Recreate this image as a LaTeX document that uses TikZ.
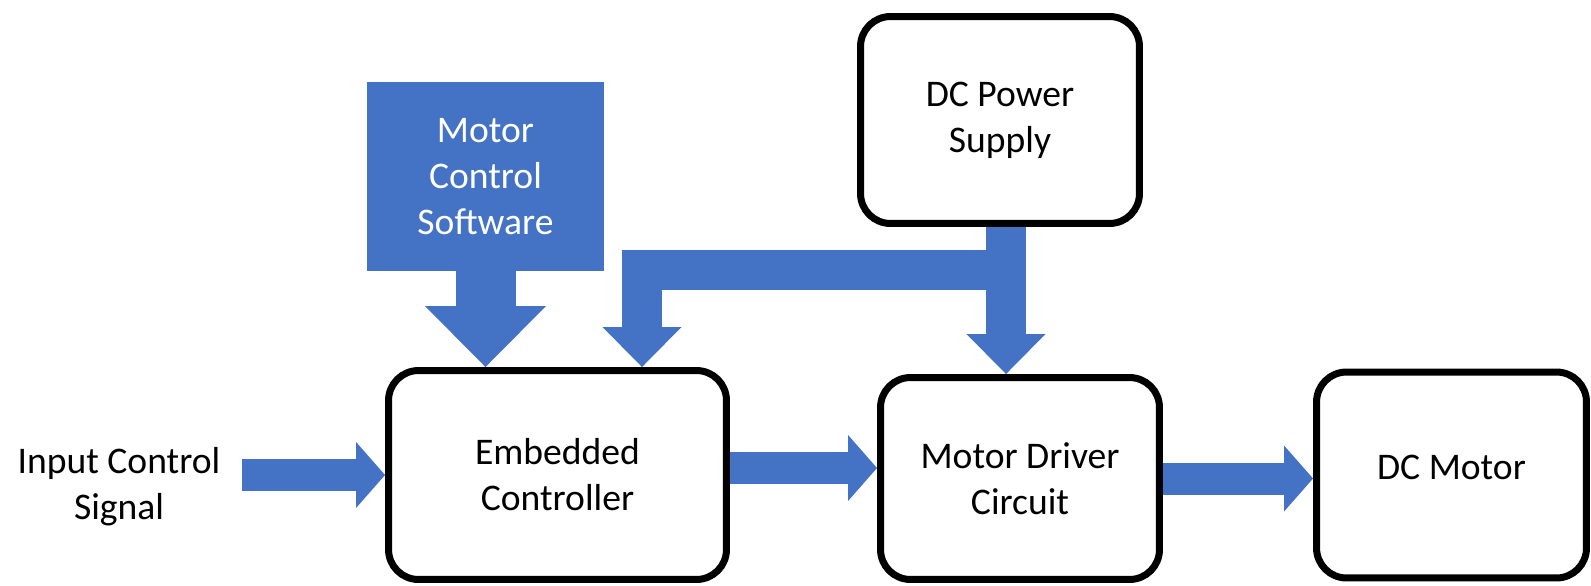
\documentclass[tikz,border=0pt]{standalone}
\usepackage{fontspec}
\setmainfont{Carlito}
\usetikzlibrary{arrows.meta,calc}

\definecolor{ctrlblue}{HTML}{4472C4}

\tikzset{
  block/.style={draw=black, line width=0.14cm, rounded corners=0.6cm, fill=white,
    align=center, font=\fontsize{21.4}{26.2}\selectfont},
  swblock/.style={fill=ctrlblue, text=white, align=center,
    font=\fontsize{21.4}{26.2}\selectfont},
  flowarrow/.style={draw=ctrlblue, line width=0.64cm,
    -{Triangle[length=0.58cm,width=1.32cm,line width=0pt]}},
  busarrow/.style={draw=ctrlblue, line width=0.8cm, line join=miter,
    -{Triangle[length=0.8cm,width=1.58cm,line width=0pt]}},
  swarrow/.style={draw=ctrlblue, line width=1.2cm,
    -{Triangle[length=1.22cm,width=2.42cm,line width=0pt]}}
}

\begin{document}
\begin{tikzpicture}[x=0.02cm,y=-0.02cm]
\useasboundingbox (0,0) rectangle (1591,585);

% blocks
\node[swblock, minimum width=4.74cm, minimum height=3.78cm] (mcs) at (485.5,176.5) {Motor\\Control\\Software};
\node[block, minimum width=5.58cm, minimum height=4.14cm] (ps) at (1000,120) {DC Power\\Supply};
\node[block, minimum width=6.76cm, minimum height=4.18cm] (ec) at (557.5,475) {Embedded\\Controller};
\node[block, minimum width=5.58cm, minimum height=4.04cm] (md) at (1020,478.5) {Motor Driver\\Circuit};
\node[block, minimum width=5.4cm, minimum height=4.12cm] (dm) at (1451.5,475) {\raisebox{0.16cm}[\height][\depth]{DC Motor}};
\node[align=center, font=\fontsize{21.4}{26.2}\selectfont] (inp) at (119,487) {Input Control\\Signal};

% signal flow
\draw[flowarrow] ([xshift=0.3cm]ec.west -| inp.east) -- (ec.west);
\draw[flowarrow] ([yshift=0.14cm]ec.east) -- ([yshift=0.14cm]ec.east -| md.west);
\draw[flowarrow] (md.east) -- (md.east -| dm.west);
\draw[swarrow] (mcs.south) -- (mcs.south |- ec.north);

% power bus
\coordinate (tap) at (1006,270);
\coordinate (ecin) at (642,270);
\draw[busarrow] (ps.south -| tap) -- (tap |- md.north);
\draw[busarrow] (tap) -- (ecin) -- (ecin |- ec.north);
\end{tikzpicture}
\end{document}
